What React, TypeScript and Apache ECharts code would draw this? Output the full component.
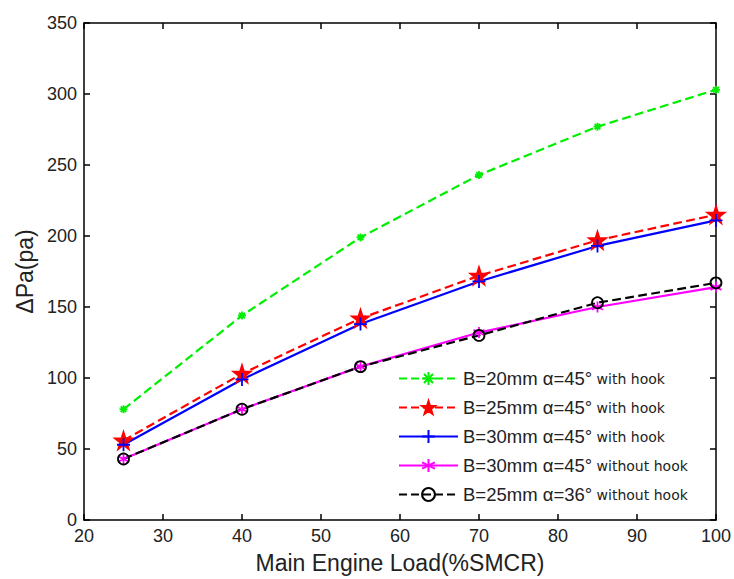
import React, { useEffect, useRef } from "react";
import * as echarts from "echarts";

const loads = [25, 40, 55, 70, 85, 100];
const b20a45Hook = [78, 144, 199, 243, 277, 303];
const b25a45Hook = [56, 103, 142, 172, 197, 215];
const b30a45Hook = [53, 99, 138, 168, 193, 211];
const b30a45NoHook = [43, 78, 108, 132, 150, 164];
const b25a36NoHook = [43, 78, 108, 130, 153, 167];

const xTicks = [20, 100, 10];
const yTicks = [0, 350, 50];

const STAR = "path://M50 0 L61.8 35.3 L99 35.3 L69 57.1 L80.4 92.7 L50 70.6 L19.6 92.7 L31 57.1 L1 35.3 L38.2 35.3 Z";
const PLUS = "path://M5 0 L5 10 M0 5 L10 5";
const ASTER8 = "path://M5 0 L5 10 M0 5 L10 5 M1.5 1.5 L8.5 8.5 M1.5 8.5 L8.5 1.5";
const ASTER6 = "path://M5 0 L5 10 M0.67 2.5 L9.33 7.5 M0.67 7.5 L9.33 2.5";

const seriesDefs = [
  { name: "B=20mm α=45° with hook", data: b20a45Hook, color: "#00ee00", dash: "dashed", symbol: ASTER8, size: 8, fill: "#00ee00" },
  { name: "B=25mm α=45° with hook", data: b25a45Hook, color: "#ff0000", dash: "dashed", symbol: STAR, size: 17, fill: "#ff0000" },
  { name: "B=30mm α=45° with hook", data: b30a45Hook, color: "#0000ff", dash: "solid", symbol: PLUS, size: 13, fill: "#0000ff" },
  { name: "B=30mm α=45° without hook", data: b30a45NoHook, color: "#ff00ff", dash: "solid", symbol: ASTER6, size: 11, fill: "#ff00ff" },
  { name: "B=25mm α=36° without hook", data: b25a36NoHook, color: "#000000", dash: "dashed", symbol: "circle", size: 11, fill: "rgba(255,255,255,0)" },
];

export default function App() {
  const ref = useRef<HTMLDivElement>(null);
  useEffect(() => {
    if (!ref.current) return;
    document.body.style.margin = "0";
    const chart = echarts.init(ref.current, null, { renderer: "svg" });
    const font = "Arial, 'Liberation Sans', sans-serif";
    const axisCommon = {
      type: "value" as const,
      axisLine: { show: true, onZero: false, lineStyle: { color: "#000", width: 1.5 } },
      axisTick: { show: true, inside: true, length: 6, lineStyle: { color: "#000", width: 1.5 } },
      splitLine: { show: false },
    };
    chart.setOption({
      animation: false,
      backgroundColor: "#fff",
      grid: { left: 84, right: 18, top: 23, bottom: 58, containLabel: false },
      xAxis: [
        {
          ...axisCommon,
          min: xTicks[0], max: xTicks[1], interval: xTicks[2],
          position: "bottom",
          name: "Main Engine Load(%SMCR)",
          nameLocation: "middle",
          nameGap: 31,
          nameTextStyle: { fontSize: 23, color: "#222", fontFamily: font },
          axisLabel: { fontSize: 18, color: "#222", fontFamily: font, margin: 7 },
        },
        {
          ...axisCommon,
          min: xTicks[0], max: xTicks[1], interval: xTicks[2],
          position: "top",
          axisLabel: { show: false },
        },
      ],
      yAxis: [
        {
          ...axisCommon,
          min: yTicks[0], max: yTicks[1], interval: yTicks[2],
          position: "left",
          name: "ΔPa(pa)",
          nameLocation: "middle",
          nameGap: 48,
          nameTextStyle: { fontSize: 23, color: "#222", fontFamily: font },
          axisLabel: { fontSize: 18, color: "#222", fontFamily: font, margin: 7 },
        },
        {
          ...axisCommon,
          min: yTicks[0], max: yTicks[1], interval: yTicks[2],
          position: "right",
          axisLabel: { show: false },
        },
      ],
      legend: {
        orient: "vertical",
        left: 398,
        top: 369,
        itemWidth: 59,
        itemHeight: 16,
        itemGap: 10,
        padding: [0, 0, 0, 0],
        data: seriesDefs.map((s) => s.name),
        formatter: (name: string) => {
          const i = name.indexOf("°");
          return "{a|" + name.slice(0, i + 1) + "}{b| " + name.slice(i + 2) + "}";
        },
        textStyle: {
          fontFamily: font,
          color: "#222",
          lineHeight: 16,
          rich: {
            a: { fontSize: 18.5, lineHeight: 16, fontFamily: font, color: "#222" },
            b: { fontSize: 14, lineHeight: 16, fontFamily: "'DejaVu Sans', sans-serif", color: "#222" },
          },
        },
      },
      series: seriesDefs.map((s) => ({
        name: s.name,
        type: "line",
        xAxisIndex: 0,
        yAxisIndex: 0,
        data: loads.map((x, i) => [x, s.data[i]]),
        symbol: s.symbol,
        symbolSize: s.size,
        showSymbol: true,
        lineStyle: { color: s.color, width: 2.2, type: s.dash },
        itemStyle: {
          color: s.fill,
          borderColor: s.color,
          borderWidth: 1.8,
        },
        emphasis: { disabled: true },
      })),
    });
    return () => chart.dispose();
  }, []);
  return <div ref={ref} style={{ width: 734, height: 579 }} />;
}
